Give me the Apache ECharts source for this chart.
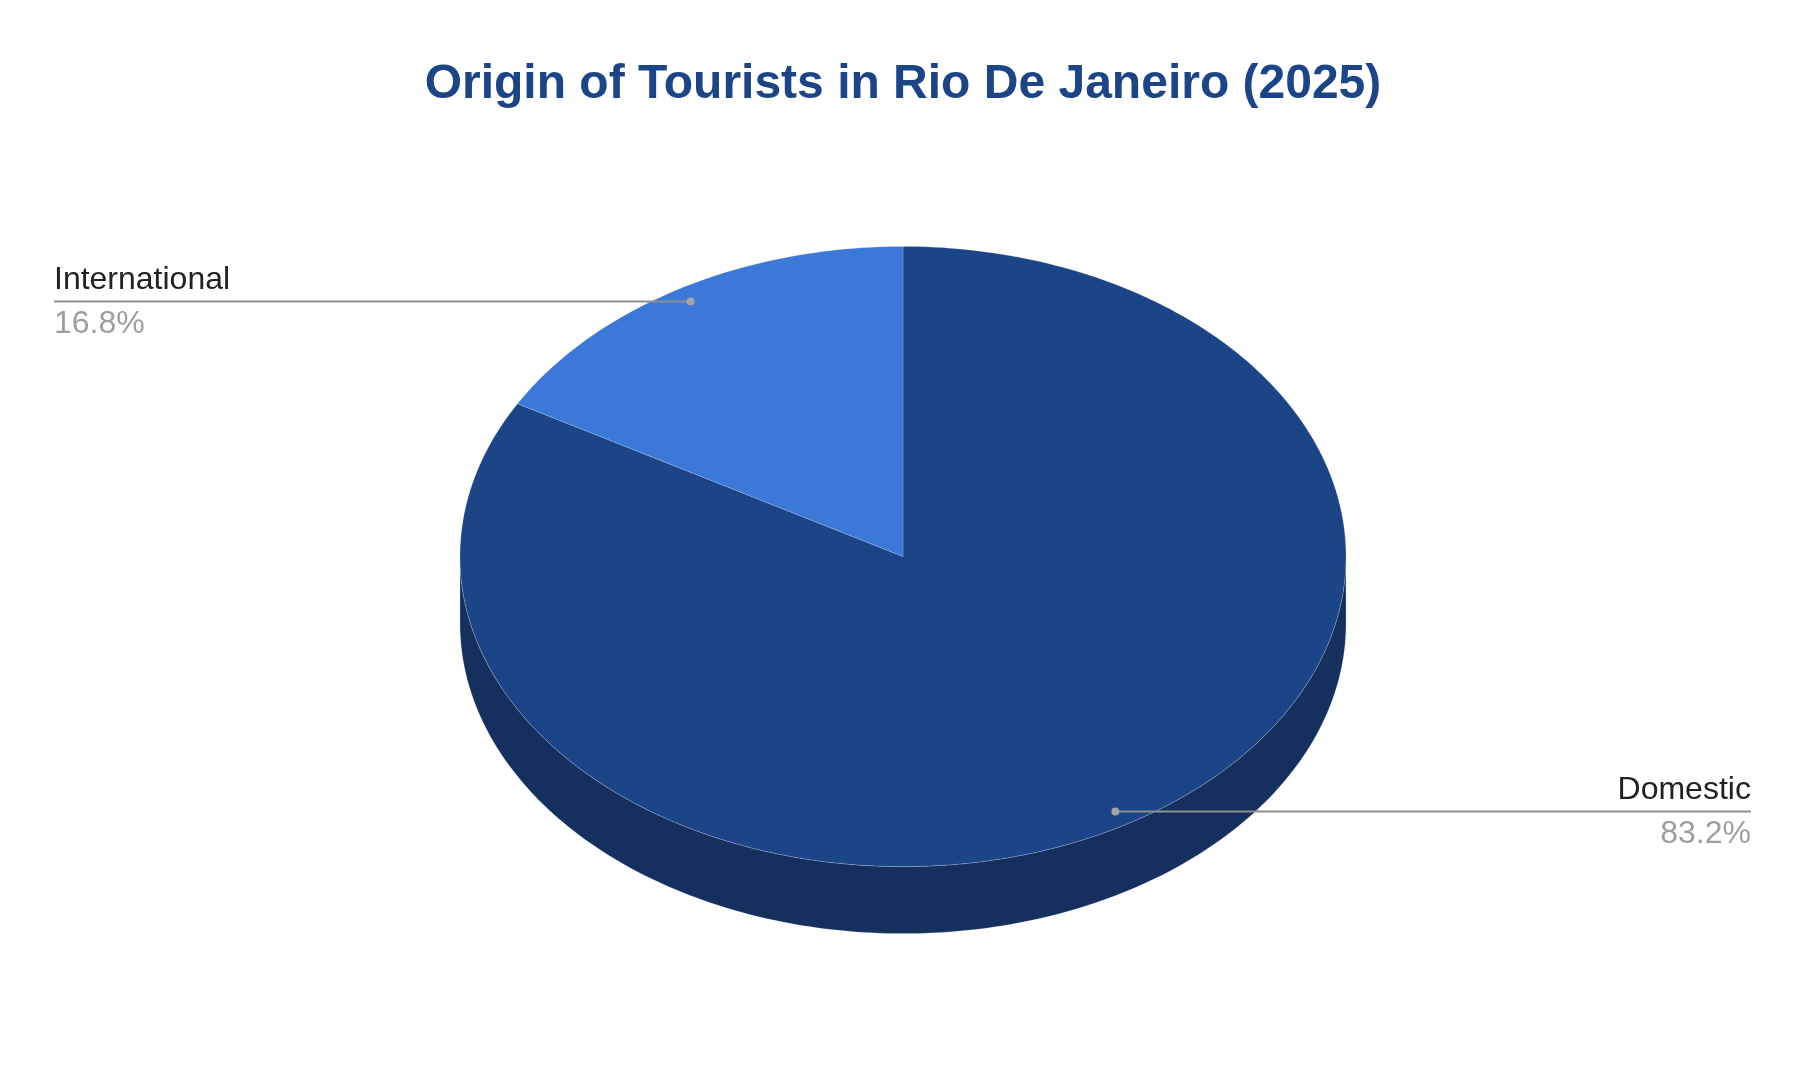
<!DOCTYPE html>
<html>
<head>
<meta charset="utf-8">
<script src="https://cdn.jsdelivr.net/npm/echarts@6/dist/echarts.min.js"></script>
<style>
html,body{margin:0;padding:0;background:#fff;}
#chart{width:1806px;height:1088px;}
</style>
</head>
<body>
<div id="chart"></div>
<script>
// ---- data ----
var categories = ['Domestic', 'International'];
var shares = [83.2, 16.8];
var sliceColors = ['#1c4587', '#3c78d8'];
var sideColors = ['#15305f', '#2a5497'];
var chartTitle = 'Origin of Tourists in Rio De Janeiro (2025)';

var FONT = '"Liberation Sans", Arial, sans-serif';
var chart = echarts.init(document.getElementById('chart'));

var total = shares.reduce(function (a, b) { return a + b; }, 0);

function pt(cx, cy, rx, ry, deg, k, dy) {
  var r = deg * Math.PI / 180;
  return [cx + k * rx * Math.sin(r), cy - k * ry * Math.cos(r) + (dy || 0)];
}

function renderItem(params, api) {
  var i = params.dataIndex;
  var W = api.getWidth(), H = api.getHeight();
  var cx = W * 0.5, cy = H * 0.5115;
  var rx = W * 0.2453, ry = H * 0.285, depth = H * 0.0616;
  var before = 0;
  for (var j = 0; j < i; j++) before += shares[j];
  var val = api.value(0);
  var a0 = before / total * 360, a1 = (before + val) / total * 360;
  var children = [];
  var step = 1;

  // side (front visible part, angles 90..270)
  var lo = Math.max(a0, 90), hi = Math.min(a1, 270);
  if (hi > lo) {
    var sp = [];
    for (var t = lo; t <= hi; t += step) sp.push(pt(cx, cy, rx, ry, t, 1, 0));
    sp.push(pt(cx, cy, rx, ry, hi, 1, 0));
    for (var t2 = hi; t2 >= lo; t2 -= step) sp.push(pt(cx, cy, rx, ry, t2, 1, depth));
    sp.push(pt(cx, cy, rx, ry, lo, 1, depth));
    children.push({ type: 'polygon', z2: 1, shape: { points: sp },
      style: { fill: sideColors[i], stroke: 'rgba(255,255,255,0.2)', lineWidth: 1 } });
  }

  // top face
  var tp = [[cx, cy]];
  for (var t3 = a0; t3 <= a1; t3 += step) tp.push(pt(cx, cy, rx, ry, t3, 1, 0));
  tp.push(pt(cx, cy, rx, ry, a1, 1, 0));
  children.push({ type: 'polygon', z2: 10, shape: { points: tp },
    style: { fill: sliceColors[i], stroke: 'rgba(255,255,255,0.18)', lineWidth: 1 } });

  // label
  var mid = (a0 + a1) / 2;
  var d = pt(cx, cy, rx, ry, mid, 0.952, 0);
  var left = Math.sin(mid * Math.PI / 180) < 0;
  var ex = left ? W * 0.0299 : W * 0.9695;
  children.push({ type: 'line', z2: 20, shape: { x1: d[0], y1: d[1], x2: ex, y2: d[1] },
    style: { stroke: '#8f8f8f', lineWidth: 2 } });
  children.push({ type: 'circle', z2: 21, shape: { cx: d[0], cy: d[1], r: 4 },
    style: { fill: '#a6a6a6' } });
  children.push({ type: 'text', z2: 22, x: ex, y: d[1] - 21,
    style: { text: categories[i], fill: '#222222', font: '32px ' + FONT,
      align: left ? 'left' : 'right', verticalAlign: 'middle' } });
  children.push({ type: 'text', z2: 22, x: ex, y: d[1] + 23,
    style: { text: (val / total * 100).toFixed(1) + '%', fill: '#9e9e9e', font: '32px ' + FONT,
      align: left ? 'left' : 'right', verticalAlign: 'middle' } });

  return { type: 'group', children: children };
}

chart.setOption({
  backgroundColor: '#ffffff',
  animation: false,
  title: {
    text: chartTitle,
    left: 'center',
    top: 54,
    textStyle: { fontFamily: FONT, fontSize: 48, fontWeight: 'bold', color: '#1c4587', lineHeight: 52 }
  },
  series: [{
    type: 'custom',
    coordinateSystem: 'none',
    renderItem: renderItem,
    data: shares.map(function (v, k) { return { name: categories[k], value: [v] }; })
  }]
});
</script>
</body>
</html>
